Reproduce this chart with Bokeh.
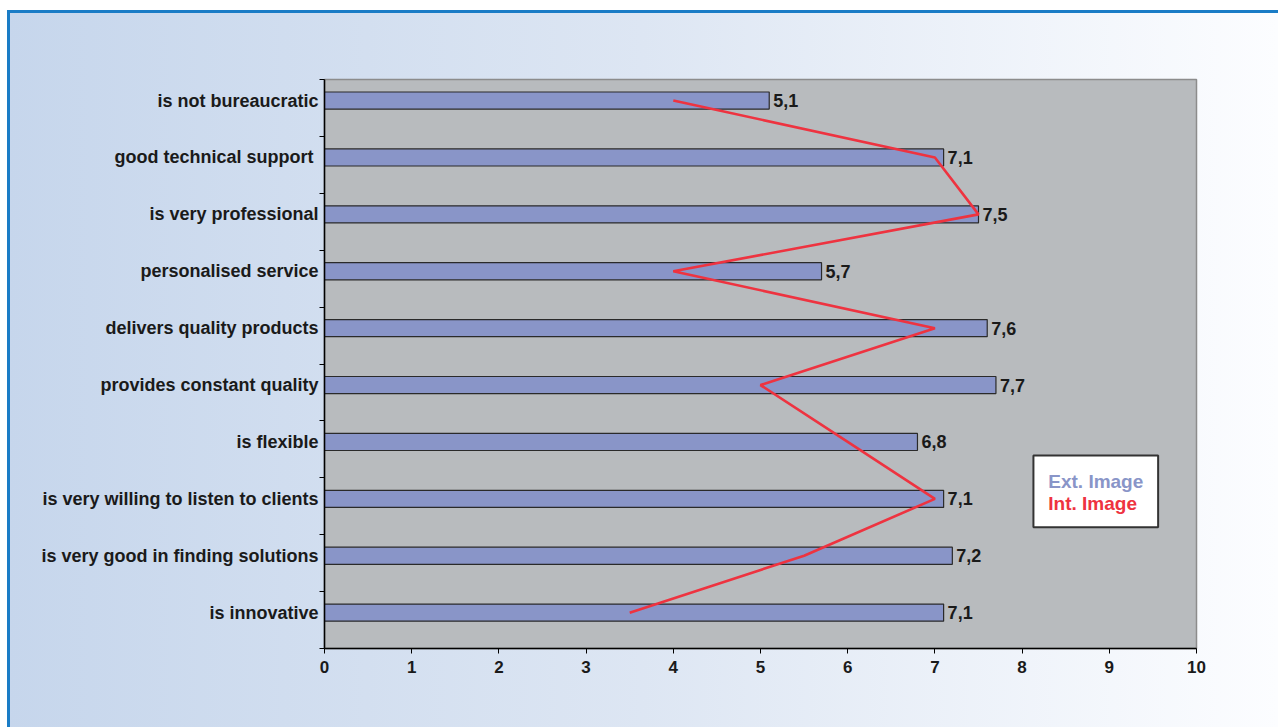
from bokeh.plotting import figure
from bokeh.models import FixedTicker, ColumnDataSource, Label, BoxAnnotation, Range1d, CustomJSTickFormatter
from bokeh.embed import file_html
from bokeh.resources import INLINE
from bokeh.core.properties import value

categories = [
    "is innovative",
    "is very good in finding solutions",
    "is very willing to listen to clients",
    "is flexible",
    "provides constant quality",
    "delivers quality products",
    "personalised service",
    "is very professional",
    "good technical support ",
    "is not bureaucratic",
]
ext_image = [7.1, 7.2, 7.1, 6.8, 7.7, 7.6, 5.7, 7.5, 7.1, 5.1]
int_image = [3.5, 5.5, 7.0, 6.0, 5.0, 7.0, 4.0, 7.5, 7.0, 4.0]
x_ticks = [0, 1, 2, 3, 4, 5, 6, 7, 8, 9, 10]

FONT = "Liberation Sans"
OFFSET = 0.13
pos = [i + OFFSET for i in range(len(categories))]
ext_text = [f"{v:.1f}".replace(".", ",") for v in ext_image]

src = ColumnDataSource(dict(y=pos, ext=ext_image, intv=int_image, lab=ext_text, cat=categories))

p = figure(width=1271, height=717, x_range=Range1d(0, 10), y_range=Range1d(-0.5, 9.5),
           output_backend="svg", toolbar_location=None,
           min_border_left=317, min_border_right=82, min_border_top=69, min_border_bottom=79)
p.styles = {
    "margin-left": "7px",
    "margin-top": "10px",
    "background": "linear-gradient(to right, #c6d6ec 0%, #dde6f3 50%, #fcfdff 100%)",
    "box-shadow": "inset 3px 3px 0 #1a7cc6",
}
p.border_fill_color = None
p.background_fill_color = "#b8bbbe"
p.outline_line_color = "#8c8c8c"
p.outline_line_width = 1.5
p.xgrid.visible = False
p.ygrid.visible = False

p.hbar(y="y", right="ext", left=0, height=0.3, source=src,
       fill_color="#8995c8", line_color="#2a2a2a", line_width=1.2)
p.line(x="intv", y="y", source=src, line_color="#ee3340", line_width=2.6)
p.text(x="ext", y="y", text="lab", source=src, x_offset=4,
       text_baseline="middle", text_align="left",
       text_font=value(FONT), text_font_style="bold", text_font_size="18px", text_color="#1a1a1a")

# x axis
xa = p.xaxis[0]
xa.ticker = FixedTicker(ticks=x_ticks)
xa.minor_tick_line_color = None
xa.major_tick_out = 5
xa.major_tick_in = 0
xa.axis_line_color = "black"
xa.axis_line_width = 1.5
xa.major_label_text_font = FONT
xa.major_label_text_font_style = "bold"
xa.major_label_text_font_size = "17px"
xa.major_label_text_color = "#1a1a1a"
xa.major_label_standoff = 7

# y axis
ya = p.yaxis[0]
ya.ticker = FixedTicker(ticks=pos, minor_ticks=[i - 0.5 for i in range(len(categories) + 1)])
ya.formatter = CustomJSTickFormatter(args=dict(labels=categories),
                                     code="const k = Math.round(tick); return (k >= 0 && k < labels.length) ? labels[k] : '';")
ya.major_tick_out = 0
ya.major_tick_in = 0
ya.minor_tick_out = 5
ya.minor_tick_in = 0
ya.minor_tick_line_color = "black"
ya.axis_line_color = "black"
ya.axis_line_width = 1.5
ya.major_label_text_font = FONT
ya.major_label_text_font_style = "bold"
ya.major_label_text_font_size = "18px"
ya.major_label_text_color = "#1a1a1a"
ya.major_label_standoff = 1

# legend box
p.add_layout(BoxAnnotation(left=8.13, right=9.56, bottom=1.63, top=2.89,
                           fill_color="white", fill_alpha=1.0,
                           line_color="#333333", line_width=2, line_alpha=1.0))
p.add_layout(Label(x=8.30, y=2.44, text="Ext. Image", text_baseline="middle",
                   text_font=FONT, text_font_style="bold", text_font_size="19px",
                   text_color="#8995c8"))
p.add_layout(Label(x=8.30, y=2.05, text="Int. Image", text_baseline="middle",
                   text_font=FONT, text_font_style="bold", text_font_size="19px",
                   text_color="#ee3340"))

open("out.html", "w").write(file_html(p, INLINE))
